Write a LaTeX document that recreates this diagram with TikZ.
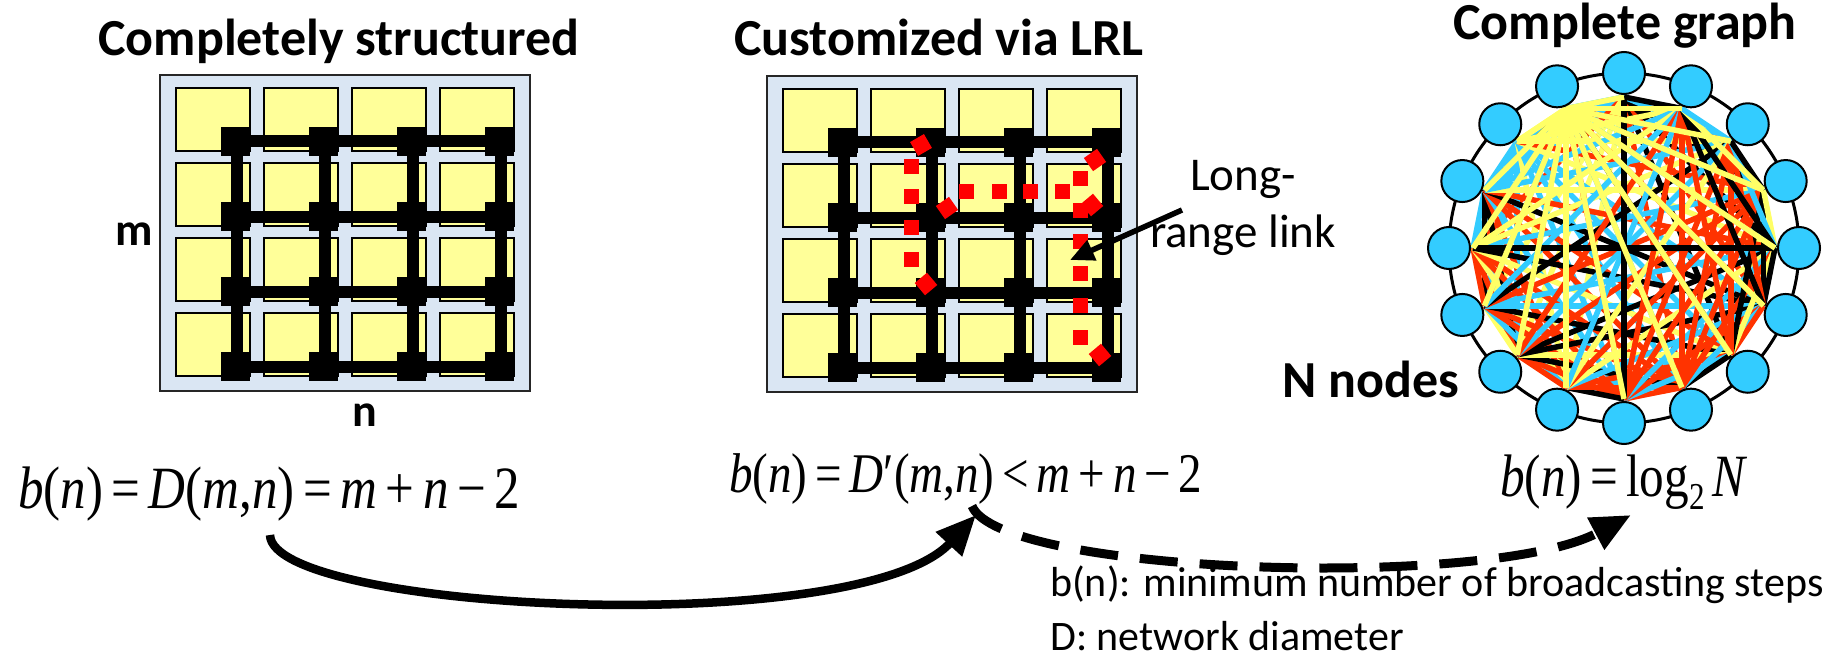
\documentclass[tikz,border=0pt]{standalone}
\usepackage{graphicx}
\usepackage{fontspec}
\setmainfont{Carlito}
\newfontfamily\tnr{Liberation Serif}
\usetikzlibrary{arrows.meta}

\pgfdeclarelayer{edges}
\pgfsetlayers{edges,main}

\definecolor{gridbg}{RGB}{218,230,243}
\definecolor{tileyellow}{RGB}{255,255,153}
\definecolor{lrlred}{RGB}{255,0,0}
\definecolor{nodeblue}{RGB}{51,204,255}
\definecolor{eyellow}{RGB}{255,255,102}
\definecolor{eblue}{RGB}{51,204,255}
\definecolor{ered}{RGB}{255,51,0}

\tikzset{
  title/.style={font=\fontsize{52}{60}\selectfont\bfseries, anchor=base, inner sep=0pt},
  dimlabel/.style={font=\fontsize{46}{54}\selectfont\bfseries, anchor=base, inner sep=0pt},
  note/.style={font=\fontsize{47}{56}\selectfont, anchor=base, inner sep=0pt},
  legend/.style={font=\fontsize{42}{50}\selectfont, anchor=base west, inner sep=0pt},
  formula/.style={anchor=base west, inner sep=0pt},
  tile/.style={fill=tileyellow, draw=black, line width=2.5pt},
  meshlink/.style={line width=12pt},
  gnode/.style={circle, fill=nodeblue, draw=black, line width=2pt, minimum size=42pt, inner sep=0pt},
  gedge/.style={line width=5.5pt},
  bigtip/.style={-{Triangle[length=40pt,width=34pt]}}
}

% 4x4 mesh: tiles, links and routers, top-left corner at (#1,#2)
\newcommand\meshgrid[2]{%
  \begin{scope}[shift={(#1,#2)}]
    \fill[gridbg, draw=black!85, line width=1.5pt] (0,0) rectangle (370,316);
    \foreach \c in {0,...,3} \foreach \r in {0,...,3}
      \filldraw[tile] ({16+88*\c},{13+75*\r}) rectangle ++(74,63);
    \foreach \r in {0,...,3}
      \draw[meshlink] (75.5,{66.5+75*\r}) -- (339.5,{66.5+75*\r});
    \foreach \c in {0,...,3}
      \draw[meshlink] ({76.5+88*\c},66.5) -- ({76.5+88*\c},291.5);
    \foreach \c in {0,...,3} \foreach \r in {0,...,3}
      \fill ({75.5+88*\c-14.5},{66.5+75*\r-14.5}) rectangle ++(29,29);
  \end{scope}}

% dots of a long-range link
\newcommand\lrlsq[2]{\fill[lrlred] ({#1-7.5},{#2-7.5}) rectangle ++(15,15);}
\newcommand\lrldia[3]{\fill[lrlred, shift={(#1,#2)}, rotate=#3] (-8,-8) rectangle (8,8);}

\begin{document}
\begin{tikzpicture}[x=1pt, y=-1pt]
\useasboundingbox (0,0) rectangle (1844,658);

% ---- titles ----
\node[title] (t1) at (339,56) {Completely structured};
\node[title] (t2) at (939,56) {Customized via LRL};
\node[title] (t3) at (1625,40) {Complete graph};

% ---- mesh networks ----
\meshgrid{160}{75}
\meshgrid{767}{76}

\node[dimlabel] (mlab) at (134,245) {m};
\node[dimlabel] (nlab) at (365,426) {n};

% long-range links in the customized mesh
\lrldia{921}{145}{30}
\foreach \y in {166.7,196,227.7,259.3} { \lrlsq{911.7}{\y} }
\lrldia{926}{284}{40}
\lrldia{947}{208}{35}
\foreach \x in {966.7,999,1030.7,1062.7} { \lrlsq{\x}{191.7} }
\lrldia{1092}{205}{40}
\lrldia{1095}{160}{35}
\foreach \y in {178.3,210,241.7,273.3,305.7,337.7} { \lrlsq{1080}{\y} }
\lrldia{1100}{355}{40}

\node[note] (lrl1) at (1243,190) {Long-};
\node[note] (lrl2) at (1243,247) {range link};
\coordinate (lrlfrom) at (1182,210);
\coordinate (lrltip) at (1070,260);
\draw[line width=5.5pt, -{Triangle[length=24pt,width=21pt]}] (lrlfrom) -- (lrltip);

% ---- complete graph K16 ----
\coordinate (gc) at (1624,248);
\foreach \k in {0,...,15}{
  \node[gnode] (g\k) at ({1624+175*cos(90+22.5*\k)},{248-175*sin(90+22.5*\k)}) {};
  \coordinate (p\k) at ({1624+151*cos(90+22.5*\k)},{248-151*sin(90+22.5*\k)});
}
\pgfmathsetseed{4242}
\begin{pgfonlayer}{edges}
  \draw[line width=3pt] (gc) circle[radius=175pt];
  \foreach \i in {0,...,14}{
    \pgfmathtruncatemacro\js{\i+1}
    \foreach \j in {\js,...,15}{
      \pgfmathrandominteger{\cc}{0}{9}
      \edef\ec{\ifcase\cc eyellow\or eyellow\or eblue\or eblue\or eblue\or ered\or ered\or ered\or black\else black\fi}
      \draw[gedge, color=\ec] (p\i) -- (p\j);
    }}
  \draw[gedge, black] (p0) -- (p8);
  \draw[gedge, black] (p4) -- (p12);
  \foreach \j in {0,2,3,...,15}
    \draw[gedge, eyellow] (p1) -- (p\j);
\end{pgfonlayer}
\node[title, anchor=base west] (nn) at (1282,397) {N nodes};

% ---- formulas ----
\node[formula] (fA) at (18,508) {\scalebox{0.85}[1]{\fontsize{60}{60}\tnr
  \textit{b}(\textit{n})\thinspace=\thinspace\textit{D}(\textit{m},\textit{n})\thinspace=\thinspace\textit{m}\thinspace+\thinspace\textit{n}\thinspace−\thinspace2}};
\node[formula] (fB) at (729,492) {\scalebox{0.84}[1]{\fontsize{56}{56}\tnr
  \textit{b}(\textit{n})\thinspace=\thinspace\textit{D}′(\textit{m},\textit{n})\thinspace<\thinspace\textit{m}\thinspace+\thinspace\textit{n}\thinspace−\thinspace2}};
\node[formula] (fC) at (1500,496) {\scalebox{0.82}[1]{\fontsize{60}{60}\tnr
  \textit{b}(\textit{n})\thinspace=\thinspace log\raisebox{-0.22em}{\fontsize{38}{38}\selectfont 2}\thinspace\textit{N}}};

% ---- transitions between the formulas ----
\coordinate (s1) at (270,535);
\coordinate (e1) at (976,515);
\draw[line width=8.5pt, bigtip] (s1) .. controls (272,612) and (860,640) .. (e1);
\coordinate (s2) at (972,506);
\coordinate (e2) at (1631,515);
\draw[line width=9pt, dash pattern=on 38pt off 22pt, bigtip] (s2) .. controls (1000,575) and (1490,590) .. (e2);

% ---- legend ----
\node[legend] (lg1) at (1050,596) {b(n): minimum number of broadcasting steps};
\node[legend] (lg2) at (1050,650) {D: network diameter};
\end{tikzpicture}
\end{document}
